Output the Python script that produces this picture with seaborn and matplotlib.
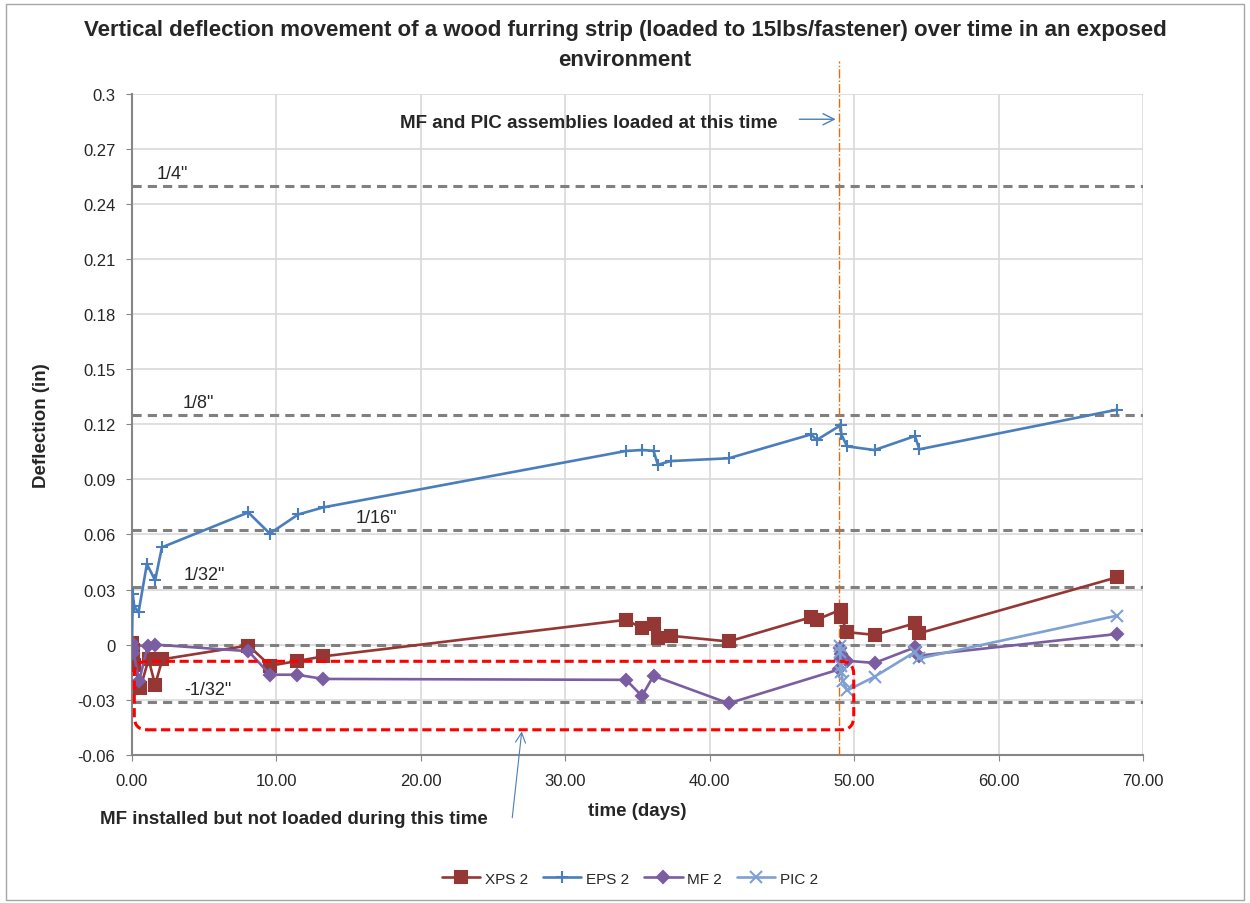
import pandas as pd
import seaborn as sns
import matplotlib.pyplot as plt
from matplotlib.patches import FancyBboxPatch, Rectangle

# data
xps_days = [0.0, 0.05, 0.1, 0.15, 0.58, 1.15, 1.6, 2.1, 8.06, 9.56, 11.4, 13.25,
            34.2, 35.3, 36.1, 36.4, 37.3, 41.3, 47.0, 47.4, 49.05, 49.1, 49.5, 51.4, 54.2, 54.5, 68.2]
xps_defl = [0.001, -0.003, -0.008, -0.011, -0.0235, -0.008, -0.022, -0.008, -0.0005, -0.0115, -0.009, -0.0064,
            0.0135, 0.009, 0.0112, 0.0035, 0.0048, 0.0017, 0.0149, 0.0136, 0.019, 0.015, 0.0068, 0.0053, 0.0116, 0.0062, 0.0367]

eps_days = [0.0, 0.05, 0.15, 0.45, 1.03, 1.6, 2.07, 8.05, 9.54, 11.5, 13.26,
            34.2, 35.3, 36.1, 36.4, 37.3, 41.3, 47.0, 47.4, 49.05, 49.1, 49.5, 51.4, 54.2, 54.5, 68.2]
eps_defl = [0.0, 0.0275, 0.021, 0.0175, 0.0439, 0.035, 0.053, 0.072, 0.0605, 0.0709, 0.0748,
            0.1055, 0.106, 0.1056, 0.098, 0.100, 0.1015, 0.1145, 0.1115, 0.1195, 0.1145, 0.108, 0.106, 0.1136, 0.1064, 0.128]

mf_days = [0.0, 0.05, 0.1, 0.5, 1.08, 1.6, 8.06, 9.56, 11.4, 13.25,
           34.2, 35.3, 36.1, 41.3, 48.95, 49.0, 49.05, 49.1, 49.5, 51.4, 54.2, 54.5, 68.2]
mf_defl = [0.0009, -0.002, -0.0045, -0.0196, -0.001, 0.0, -0.0036, -0.0164, -0.0164, -0.0187,
           -0.0192, -0.028, -0.017, -0.032, -0.0135, -0.002, -0.005, -0.008, -0.0088, -0.0100, -0.0015, -0.006, 0.0058]

pic_days = [49.0, 49.02, 49.05, 49.1, 49.2, 49.5, 51.4, 54.2, 54.5, 68.2]
pic_defl = [-0.0005, -0.004, -0.0115, -0.015, -0.0196, -0.025, -0.0175, -0.004, -0.0075, 0.0158]

ref_values = [0.25, 0.125, 0.0625, 0.03125, 0.0, -0.03125]
ref_labels = ['1/4"', '1/8"', '1/16"', '1/32"', '', '-1/32"']
ref_label_x = [1.7, 3.5, 15.5, 3.6, 0.0, 3.6]

x_ticks = [0, 10, 20, 30, 40, 50, 60, 70]
x_tick_labels = ['0.00', '10.00', '20.00', '30.00', '40.00', '50.00', '60.00', '70.00']
y_ticks = [0.3, 0.27, 0.24, 0.21, 0.18, 0.15, 0.12, 0.09, 0.06, 0.03, 0.0, -0.03, -0.06]
y_tick_labels = ['0.3', '0.27', '0.24', '0.21', '0.18', '0.15', '0.12', '0.09', '0.06', '0.03', '0', '-0.03', '-0.06']

load_day = 48.97

sns.set_style('white')
plt.rcParams['font.family'] = ['Liberation Sans', 'DejaVu Sans']

fig = plt.figure(figsize=(12.5, 9.04), dpi=100)
ax = fig.add_axes([0.1056, 0.164, 0.809, 0.731])

series = [
  ('XPS 2', xps_days, xps_defl, '#953735', 's', 8),
  ('EPS 2', eps_days, eps_defl, '#4A7EBB', '+', 9),
  ('MF 2', mf_days, mf_defl, '#7B5EA1', 'D', 6),
  ('PIC 2', pic_days, pic_defl, '#7EA0D2', 'x', 8),
]
for name, d, v, c, m, ms in series:
  df = pd.DataFrame({'days': d, 'defl': v})
  sns.lineplot(data=df, x='days', y='defl', ax=ax, sort=False, estimator=None,
               color=c, marker=m, markersize=ms, markeredgecolor=c, markeredgewidth=1.5,
               linewidth=1.9, label=name, zorder=5)

# reference lines
for val, lab, lx in zip(ref_values, ref_labels, ref_label_x):
  ax.axhline(val, color='#808080', linestyle=(0, (3, 2)), linewidth=2.2, zorder=3)
  if lab:
    ax.text(lx, val + 0.0022, lab, fontsize=13, va='bottom', ha='left')

# loading time line
ax.axvline(load_day, ymin=0, ymax=1.05, color='#E46C0A', linestyle='-.', linewidth=1.0,
           clip_on=False, zorder=4)

# unloaded period box
box = FancyBboxPatch((0.16, -0.0464), 49.8, 0.0373,
                     boxstyle='round,pad=0,rounding_size=0.9', mutation_aspect=0.0079,
                     fill=False, edgecolor='#FF0000', linestyle=(0, (3, 1.5)), linewidth=2.2, zorder=6)
ax.add_patch(box)

ax.text(31.6, 0.2847, 'MF and PIC assemblies loaded at this time', fontsize=13.5, fontweight='bold',
        ha='center', va='center')
ax.annotate('', xy=(48.9, 0.2862), xytext=(46.0, 0.2862),
            arrowprops=dict(arrowstyle='->', color='#4A7EBB', lw=1.0, mutation_scale=20))

ax.text(11.2, -0.0949, 'MF installed but not loaded during this time', fontsize=13.5, fontweight='bold',
        ha='center', va='center', clip_on=False)
ax.annotate('', xy=(27.0, -0.0458), xytext=(26.3, -0.0958), annotation_clip=False,
            arrowprops=dict(arrowstyle='->', color='#4A7EBB', lw=0.8, mutation_scale=18))

ax.set_xlim(0, 70)
ax.set_ylim(-0.06, 0.3)
ax.set_xticks(x_ticks)
ax.set_xticklabels(x_tick_labels, fontsize=12)
ax.set_yticks(y_ticks)
ax.set_yticklabels(y_tick_labels, fontsize=12)
ax.grid(True, color='#D9D9D9', linewidth=1.2, zorder=0)
ax.set_axisbelow(True)
for s in ['top', 'right']:
  ax.spines[s].set_visible(False)
for s in ['left', 'bottom']:
  ax.spines[s].set_color('#868686')
  ax.spines[s].set_linewidth(1.5)
ax.tick_params(axis='both', length=4, color='#868686', direction='out', left=True, bottom=True)
ax.tick_params(axis='y', pad=8)
ax.tick_params(axis='x', pad=9)
ax.set_xlabel('time (days)', fontsize=13.5, fontweight='bold', labelpad=10)
ax.set_ylabel('Deflection (in)', fontsize=13.5, fontweight='bold', labelpad=20)

fig.suptitle('Vertical deflection movement of a wood furring strip (loaded to 15lbs/fastener) over time in an exposed\nenvironment',
             fontsize=16, fontweight='bold', y=0.978, linespacing=1.55)

handles, labels = ax.get_legend_handles_labels()
if ax.get_legend() is not None:
  ax.get_legend().remove()
fig.legend(handles, labels, loc='center', bbox_to_anchor=(0.504, 0.027), ncol=4, frameon=False,
           fontsize=11, handlelength=2.5, columnspacing=1.0, handletextpad=0.3)

fig.add_artist(Rectangle((0.005, 0.003), 0.99, 0.992, transform=fig.transFigure, fill=False,
                         edgecolor='#A6A6A6', linewidth=1.0))

plt.savefig('out.png', dpi=100)
